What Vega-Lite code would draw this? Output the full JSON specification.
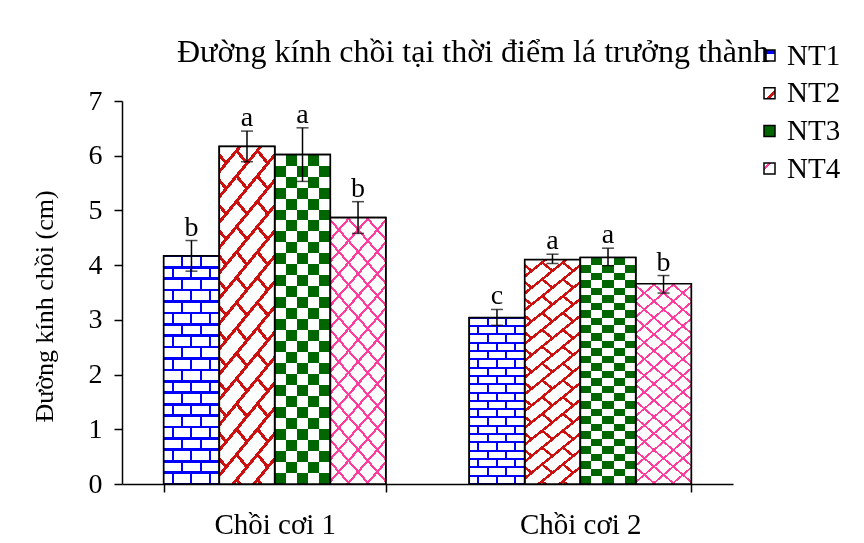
{
  "$schema": "https://vega.github.io/schema/vega-lite/v6.json",
  "width": 611,
  "height": 383,
  "autosize": {"type": "none"},
  "padding": {"left": 122, "top": 101, "right": 131, "bottom": 59},
  "background": "white",
  "config": {
    "view": {"stroke": null},
    "font": "Liberation Serif"
  },
  "title": {
    "text": "Đường kính chồi tại thời điểm lá trưởng thành",
    "anchor": "start",
    "frame": "group",
    "font": "Liberation Serif",
    "fontSize": 32,
    "fontWeight": "normal",
    "color": "black",
    "dx": 55,
    "dy": 48,
    "offset": 20
  },
  "data": {
    "values": [
      {"giai_doan": "Chồi cơi 1", "nt": "NT1", "tb": 4.17, "duoi": 3.89, "tren": 4.45, "chu": "b"},
      {"giai_doan": "Chồi cơi 1", "nt": "NT2", "tb": 6.17, "duoi": 5.89, "tren": 6.45, "chu": "a"},
      {"giai_doan": "Chồi cơi 1", "nt": "NT3", "tb": 6.02, "duoi": 5.53, "tren": 6.51, "chu": "a"},
      {"giai_doan": "Chồi cơi 1", "nt": "NT4", "tb": 4.87, "duoi": 4.58, "tren": 5.16, "chu": "b"},
      {"giai_doan": "Chồi cơi 2", "nt": "NT1", "tb": 3.04, "duoi": 2.9, "tren": 3.19, "chu": "c"},
      {"giai_doan": "Chồi cơi 2", "nt": "NT2", "tb": 4.1, "duoi": 4.03, "tren": 4.2, "chu": "a"},
      {"giai_doan": "Chồi cơi 2", "nt": "NT3", "tb": 4.14, "duoi": 3.99, "tren": 4.31, "chu": "a"},
      {"giai_doan": "Chồi cơi 2", "nt": "NT4", "tb": 3.66, "duoi": 3.49, "tren": 3.81, "chu": "b"}
    ]
  },
  "encoding": {
    "x": {
      "field": "giai_doan",
      "type": "nominal",
      "sort": ["Chồi cơi 1", "Chồi cơi 2"],
      "scale": {"paddingInner": 0.273, "paddingOuter": 0.1365},
      "axis": {
        "title": null,
        "labelAngle": 0,
        "domainColor": "black",
        "domainWidth": 1.5,
        "tickColor": "black",
        "tickWidth": 1.5,
        "tickSize": 8,
        "tickBand": "extent",
        "labelFont": "Liberation Serif",
        "labelFontSize": 29,
        "labelColor": "black",
        "labelPadding": 18
      }
    },
    "xOffset": {
      "field": "nt",
      "type": "nominal",
      "scale": {"domain": ["NT1", "NT2", "NT3", "NT4"], "paddingInner": 0, "paddingOuter": 0}
    },
    "y": {
      "field": "tb",
      "type": "quantitative",
      "scale": {"domain": [0, 7], "nice": false},
      "axis": {
        "title": "Đường kính chồi (cm)",
        "values": [0, 1, 2, 3, 4, 5, 6, 7],
        "grid": false,
        "domainColor": "black",
        "domainWidth": 1.5,
        "tickColor": "black",
        "tickWidth": 1.5,
        "tickSize": 8,
        "labelFont": "Liberation Serif",
        "labelFontSize": 28,
        "labelColor": "black",
        "labelPadding": 12,
        "titleFont": "Liberation Serif",
        "titleFontSize": 26,
        "titleFontWeight": "normal",
        "titleColor": "black",
        "titlePadding": 31,
        "titleY": 205
      }
    }
  },
  "layer": [
    {
      "mark": {"type": "bar", "stroke": "black", "strokeWidth": 1.5},
      "encoding": {
        "color": {
          "field": "nt",
          "type": "nominal",
          "scale": {
            "domain": ["NT1", "NT2", "NT3", "NT4"],
            "range": [
              {"expr": "{gradient:'linear',x1:0,y1:0,x2:0.000001,y2:1,stops:[{offset:0,color:'#0000ff'},{offset:0.4,color:'#0000ff'},{offset:0.4,color:'#ffffff'},{offset:1,color:'#ffffff'}]}"},
              {"expr": "{gradient:'linear',x1:0,y1:0,x2:1,y2:1,stops:[{offset:0,color:'#ffffff'},{offset:0.6,color:'#ffffff'},{offset:0.6,color:'#cc1111'},{offset:0.78,color:'#cc1111'},{offset:0.78,color:'#ffffff'},{offset:1,color:'#ffffff'}]}"},
              "#006600",
              {"expr": "{gradient:'linear',x1:0,y1:0,x2:1,y2:1,stops:[{offset:0,color:'#ffffff'},{offset:0.2,color:'#ffffff'},{offset:0.2,color:'#ff3d9e'},{offset:0.35,color:'#ff3d9e'},{offset:0.35,color:'#ffffff'},{offset:1,color:'#ffffff'}]}"}
            ]
          },
          "legend": {
            "title": null,
            "orient": "none",
            "legendX": 633,
            "legendY": -60,
            "padding": 0,
            "symbolType": "square",
            "symbolSize": 121,
            "symbolStrokeColor": "black",
            "symbolStrokeWidth": 1.5,
            "labelFont": "Liberation Serif",
            "labelFontSize": 29,
            "labelColor": "black",
            "labelOffset": 3,
            "rowPadding": 7.7
          }
        }
      }
    },
    {
      "transform": [{"filter": "datum.nt === 'NT1'"}],
      "mark": {"type": "bar", "fill": {"gradient": "linear", "x1": 0, "y1": 0, "x2": 1, "y2": 0, "stops": [{"offset":0,"color":"#000"},{"offset":0.149,"color":"#000"},{"offset":0.149,"color":"#fff"},{"offset":0.185,"color":"#fff"},{"offset":0.185,"color":"#000"},{"offset":0.315,"color":"#000"},{"offset":0.315,"color":"#fff"},{"offset":0.351,"color":"#fff"},{"offset":0.351,"color":"#000"},{"offset":0.482,"color":"#000"},{"offset":0.482,"color":"#fff"},{"offset":0.518,"color":"#fff"},{"offset":0.518,"color":"#000"},{"offset":0.649,"color":"#000"},{"offset":0.649,"color":"#fff"},{"offset":0.685,"color":"#fff"},{"offset":0.685,"color":"#000"},{"offset":0.815,"color":"#000"},{"offset":0.815,"color":"#fff"},{"offset":0.851,"color":"#fff"},{"offset":0.851,"color":"#000"},{"offset":1,"color":"#000"}]}}
    },
    {
      "transform": [{"filter": "datum.nt === 'NT1'"}],
      "mark": {"type": "bar", "blend": "multiply", "fill": {"gradient": "linear", "x1": 0, "y1": 0, "x2": 0.000001, "y2": 1, "stops": [{"offset":0,"color":"#000"},{"offset":0.05,"color":"#000"},{"offset":0.05,"color":"#fff"},{"offset":0.1,"color":"#fff"},{"offset":0.1,"color":"#000"},{"offset":0.15,"color":"#000"},{"offset":0.15,"color":"#fff"},{"offset":0.2,"color":"#fff"},{"offset":0.2,"color":"#000"},{"offset":0.25,"color":"#000"},{"offset":0.25,"color":"#fff"},{"offset":0.3,"color":"#fff"},{"offset":0.3,"color":"#000"},{"offset":0.35,"color":"#000"},{"offset":0.35,"color":"#fff"},{"offset":0.4,"color":"#fff"},{"offset":0.4,"color":"#000"},{"offset":0.45,"color":"#000"},{"offset":0.45,"color":"#fff"},{"offset":0.5,"color":"#fff"},{"offset":0.5,"color":"#000"},{"offset":0.55,"color":"#000"},{"offset":0.55,"color":"#fff"},{"offset":0.6,"color":"#fff"},{"offset":0.6,"color":"#000"},{"offset":0.65,"color":"#000"},{"offset":0.65,"color":"#fff"},{"offset":0.7,"color":"#fff"},{"offset":0.7,"color":"#000"},{"offset":0.75,"color":"#000"},{"offset":0.75,"color":"#fff"},{"offset":0.8,"color":"#fff"},{"offset":0.8,"color":"#000"},{"offset":0.85,"color":"#000"},{"offset":0.85,"color":"#fff"},{"offset":0.9,"color":"#fff"},{"offset":0.9,"color":"#000"},{"offset":0.95,"color":"#000"},{"offset":0.95,"color":"#fff"},{"offset":1,"color":"#fff"}]}}
    },
    {
      "transform": [{"filter": "datum.nt === 'NT1'"}],
      "mark": {"type": "bar", "blend": "difference", "fill": {"gradient": "linear", "x1": 0, "y1": 0, "x2": 1, "y2": 0, "stops": [{"offset":0,"color":"#000"},{"offset":0.315,"color":"#000"},{"offset":0.315,"color":"#fff"},{"offset":0.351,"color":"#fff"},{"offset":0.351,"color":"#000"},{"offset":0.649,"color":"#000"},{"offset":0.649,"color":"#fff"},{"offset":0.685,"color":"#fff"},{"offset":0.685,"color":"#000"},{"offset":1,"color":"#000"}]}}
    },
    {
      "transform": [{"filter": "datum.nt === 'NT1'"}],
      "mark": {"type": "bar", "blend": "screen", "fill": {"gradient": "linear", "x1": 0, "y1": 0, "x2": 0.000001, "y2": 1, "stops": [{"offset":0,"color":"#fff"},{"offset":0.006,"color":"#fff"},{"offset":0.006,"color":"#000"},{"offset":0.044,"color":"#000"},{"offset":0.044,"color":"#fff"},{"offset":0.056,"color":"#fff"},{"offset":0.056,"color":"#000"},{"offset":0.094,"color":"#000"},{"offset":0.094,"color":"#fff"},{"offset":0.106,"color":"#fff"},{"offset":0.106,"color":"#000"},{"offset":0.144,"color":"#000"},{"offset":0.144,"color":"#fff"},{"offset":0.156,"color":"#fff"},{"offset":0.156,"color":"#000"},{"offset":0.194,"color":"#000"},{"offset":0.194,"color":"#fff"},{"offset":0.206,"color":"#fff"},{"offset":0.206,"color":"#000"},{"offset":0.244,"color":"#000"},{"offset":0.244,"color":"#fff"},{"offset":0.256,"color":"#fff"},{"offset":0.256,"color":"#000"},{"offset":0.294,"color":"#000"},{"offset":0.294,"color":"#fff"},{"offset":0.306,"color":"#fff"},{"offset":0.306,"color":"#000"},{"offset":0.344,"color":"#000"},{"offset":0.344,"color":"#fff"},{"offset":0.356,"color":"#fff"},{"offset":0.356,"color":"#000"},{"offset":0.394,"color":"#000"},{"offset":0.394,"color":"#fff"},{"offset":0.406,"color":"#fff"},{"offset":0.406,"color":"#000"},{"offset":0.444,"color":"#000"},{"offset":0.444,"color":"#fff"},{"offset":0.456,"color":"#fff"},{"offset":0.456,"color":"#000"},{"offset":0.494,"color":"#000"},{"offset":0.494,"color":"#fff"},{"offset":0.506,"color":"#fff"},{"offset":0.506,"color":"#000"},{"offset":0.544,"color":"#000"},{"offset":0.544,"color":"#fff"},{"offset":0.556,"color":"#fff"},{"offset":0.556,"color":"#000"},{"offset":0.594,"color":"#000"},{"offset":0.594,"color":"#fff"},{"offset":0.606,"color":"#fff"},{"offset":0.606,"color":"#000"},{"offset":0.644,"color":"#000"},{"offset":0.644,"color":"#fff"},{"offset":0.656,"color":"#fff"},{"offset":0.656,"color":"#000"},{"offset":0.694,"color":"#000"},{"offset":0.694,"color":"#fff"},{"offset":0.706,"color":"#fff"},{"offset":0.706,"color":"#000"},{"offset":0.744,"color":"#000"},{"offset":0.744,"color":"#fff"},{"offset":0.756,"color":"#fff"},{"offset":0.756,"color":"#000"},{"offset":0.794,"color":"#000"},{"offset":0.794,"color":"#fff"},{"offset":0.806,"color":"#fff"},{"offset":0.806,"color":"#000"},{"offset":0.844,"color":"#000"},{"offset":0.844,"color":"#fff"},{"offset":0.856,"color":"#fff"},{"offset":0.856,"color":"#000"},{"offset":0.894,"color":"#000"},{"offset":0.894,"color":"#fff"},{"offset":0.906,"color":"#fff"},{"offset":0.906,"color":"#000"},{"offset":0.944,"color":"#000"},{"offset":0.944,"color":"#fff"},{"offset":0.956,"color":"#fff"},{"offset":0.956,"color":"#000"},{"offset":0.994,"color":"#000"},{"offset":0.994,"color":"#fff"},{"offset":1,"color":"#fff"}]}}
    },
    {
      "transform": [{"filter": "datum.nt === 'NT1'"}],
      "mark": {"type": "bar", "blend": "difference", "fill": "#ffffff"}
    },
    {
      "transform": [{"filter": "datum.nt === 'NT1'"}],
      "mark": {"type": "bar", "blend": "screen", "fill": "#0000ff"}
    },
    {
      "transform": [{"filter": "datum.nt === 'NT2'"}],
      "mark": {"type": "bar", "fill": {"gradient": "linear", "x1": 0, "y1": 1, "x2": 0.2308, "y2": -0.1538, "stops": [{"offset":0,"color":"#000"},{"offset":0.0565,"color":"#000"},{"offset":0.0565,"color":"#fff"},{"offset":0.0685,"color":"#fff"},{"offset":0.0685,"color":"#000"},{"offset":0.119,"color":"#000"},{"offset":0.119,"color":"#fff"},{"offset":0.131,"color":"#fff"},{"offset":0.131,"color":"#000"},{"offset":0.1815,"color":"#000"},{"offset":0.1815,"color":"#fff"},{"offset":0.1935,"color":"#fff"},{"offset":0.1935,"color":"#000"},{"offset":0.244,"color":"#000"},{"offset":0.244,"color":"#fff"},{"offset":0.256,"color":"#fff"},{"offset":0.256,"color":"#000"},{"offset":0.3065,"color":"#000"},{"offset":0.3065,"color":"#fff"},{"offset":0.3185,"color":"#fff"},{"offset":0.3185,"color":"#000"},{"offset":0.369,"color":"#000"},{"offset":0.369,"color":"#fff"},{"offset":0.381,"color":"#fff"},{"offset":0.381,"color":"#000"},{"offset":0.4315,"color":"#000"},{"offset":0.4315,"color":"#fff"},{"offset":0.4435,"color":"#fff"},{"offset":0.4435,"color":"#000"},{"offset":0.494,"color":"#000"},{"offset":0.494,"color":"#fff"},{"offset":0.506,"color":"#fff"},{"offset":0.506,"color":"#000"},{"offset":0.5565,"color":"#000"},{"offset":0.5565,"color":"#fff"},{"offset":0.5685,"color":"#fff"},{"offset":0.5685,"color":"#000"},{"offset":0.619,"color":"#000"},{"offset":0.619,"color":"#fff"},{"offset":0.631,"color":"#fff"},{"offset":0.631,"color":"#000"},{"offset":0.6815,"color":"#000"},{"offset":0.6815,"color":"#fff"},{"offset":0.6935,"color":"#fff"},{"offset":0.6935,"color":"#000"},{"offset":0.744,"color":"#000"},{"offset":0.744,"color":"#fff"},{"offset":0.756,"color":"#fff"},{"offset":0.756,"color":"#000"},{"offset":0.8065,"color":"#000"},{"offset":0.8065,"color":"#fff"},{"offset":0.8185,"color":"#fff"},{"offset":0.8185,"color":"#000"},{"offset":0.869,"color":"#000"},{"offset":0.869,"color":"#fff"},{"offset":0.881,"color":"#fff"},{"offset":0.881,"color":"#000"},{"offset":0.9315,"color":"#000"},{"offset":0.9315,"color":"#fff"},{"offset":0.9435,"color":"#fff"},{"offset":0.9435,"color":"#000"},{"offset":1,"color":"#000"}]}}
    },
    {
      "transform": [{"filter": "datum.nt === 'NT2'"}],
      "mark": {"type": "bar", "blend": "multiply", "fill": {"gradient": "linear", "x1": 0, "y1": 0, "x2": 0.2308, "y2": 1.1538, "stops": [{"offset":0,"color":"#000"},{"offset":0.0625,"color":"#000"},{"offset":0.0625,"color":"#fff"},{"offset":0.125,"color":"#fff"},{"offset":0.125,"color":"#000"},{"offset":0.1875,"color":"#000"},{"offset":0.1875,"color":"#fff"},{"offset":0.25,"color":"#fff"},{"offset":0.25,"color":"#000"},{"offset":0.3125,"color":"#000"},{"offset":0.3125,"color":"#fff"},{"offset":0.375,"color":"#fff"},{"offset":0.375,"color":"#000"},{"offset":0.4375,"color":"#000"},{"offset":0.4375,"color":"#fff"},{"offset":0.5,"color":"#fff"},{"offset":0.5,"color":"#000"},{"offset":0.5625,"color":"#000"},{"offset":0.5625,"color":"#fff"},{"offset":0.625,"color":"#fff"},{"offset":0.625,"color":"#000"},{"offset":0.6875,"color":"#000"},{"offset":0.6875,"color":"#fff"},{"offset":0.75,"color":"#fff"},{"offset":0.75,"color":"#000"},{"offset":0.8125,"color":"#000"},{"offset":0.8125,"color":"#fff"},{"offset":0.875,"color":"#fff"},{"offset":0.875,"color":"#000"},{"offset":0.9375,"color":"#000"},{"offset":0.9375,"color":"#fff"},{"offset":1,"color":"#fff"}]}}
    },
    {
      "transform": [{"filter": "datum.nt === 'NT2'"}],
      "mark": {"type": "bar", "blend": "difference", "fill": {"gradient": "linear", "x1": 0, "y1": 1, "x2": 0.2308, "y2": -0.1538, "stops": [{"offset":0,"color":"#000"},{"offset":0.0565,"color":"#000"},{"offset":0.0565,"color":"#fff"},{"offset":0.0685,"color":"#fff"},{"offset":0.0685,"color":"#000"},{"offset":0.1815,"color":"#000"},{"offset":0.1815,"color":"#fff"},{"offset":0.1935,"color":"#fff"},{"offset":0.1935,"color":"#000"},{"offset":0.3065,"color":"#000"},{"offset":0.3065,"color":"#fff"},{"offset":0.3185,"color":"#fff"},{"offset":0.3185,"color":"#000"},{"offset":0.4315,"color":"#000"},{"offset":0.4315,"color":"#fff"},{"offset":0.4435,"color":"#fff"},{"offset":0.4435,"color":"#000"},{"offset":0.5565,"color":"#000"},{"offset":0.5565,"color":"#fff"},{"offset":0.5685,"color":"#fff"},{"offset":0.5685,"color":"#000"},{"offset":0.6815,"color":"#000"},{"offset":0.6815,"color":"#fff"},{"offset":0.6935,"color":"#fff"},{"offset":0.6935,"color":"#000"},{"offset":0.8065,"color":"#000"},{"offset":0.8065,"color":"#fff"},{"offset":0.8185,"color":"#fff"},{"offset":0.8185,"color":"#000"},{"offset":0.9315,"color":"#000"},{"offset":0.9315,"color":"#fff"},{"offset":0.9435,"color":"#fff"},{"offset":0.9435,"color":"#000"},{"offset":1,"color":"#000"}]}}
    },
    {
      "transform": [{"filter": "datum.nt === 'NT2'"}],
      "mark": {"type": "bar", "blend": "screen", "fill": {"gradient": "linear", "x1": 0, "y1": 0, "x2": 0.2308, "y2": 1.1538, "stops": [{"offset":0,"color":"#000"},{"offset":0.0565,"color":"#000"},{"offset":0.0565,"color":"#fff"},{"offset":0.0685,"color":"#fff"},{"offset":0.0685,"color":"#000"},{"offset":0.119,"color":"#000"},{"offset":0.119,"color":"#fff"},{"offset":0.131,"color":"#fff"},{"offset":0.131,"color":"#000"},{"offset":0.1815,"color":"#000"},{"offset":0.1815,"color":"#fff"},{"offset":0.1935,"color":"#fff"},{"offset":0.1935,"color":"#000"},{"offset":0.244,"color":"#000"},{"offset":0.244,"color":"#fff"},{"offset":0.256,"color":"#fff"},{"offset":0.256,"color":"#000"},{"offset":0.3065,"color":"#000"},{"offset":0.3065,"color":"#fff"},{"offset":0.3185,"color":"#fff"},{"offset":0.3185,"color":"#000"},{"offset":0.369,"color":"#000"},{"offset":0.369,"color":"#fff"},{"offset":0.381,"color":"#fff"},{"offset":0.381,"color":"#000"},{"offset":0.4315,"color":"#000"},{"offset":0.4315,"color":"#fff"},{"offset":0.4435,"color":"#fff"},{"offset":0.4435,"color":"#000"},{"offset":0.494,"color":"#000"},{"offset":0.494,"color":"#fff"},{"offset":0.506,"color":"#fff"},{"offset":0.506,"color":"#000"},{"offset":0.5565,"color":"#000"},{"offset":0.5565,"color":"#fff"},{"offset":0.5685,"color":"#fff"},{"offset":0.5685,"color":"#000"},{"offset":0.619,"color":"#000"},{"offset":0.619,"color":"#fff"},{"offset":0.631,"color":"#fff"},{"offset":0.631,"color":"#000"},{"offset":0.6815,"color":"#000"},{"offset":0.6815,"color":"#fff"},{"offset":0.6935,"color":"#fff"},{"offset":0.6935,"color":"#000"},{"offset":0.744,"color":"#000"},{"offset":0.744,"color":"#fff"},{"offset":0.756,"color":"#fff"},{"offset":0.756,"color":"#000"},{"offset":0.8065,"color":"#000"},{"offset":0.8065,"color":"#fff"},{"offset":0.8185,"color":"#fff"},{"offset":0.8185,"color":"#000"},{"offset":0.869,"color":"#000"},{"offset":0.869,"color":"#fff"},{"offset":0.881,"color":"#fff"},{"offset":0.881,"color":"#000"},{"offset":0.9315,"color":"#000"},{"offset":0.9315,"color":"#fff"},{"offset":0.9435,"color":"#fff"},{"offset":0.9435,"color":"#000"},{"offset":1,"color":"#000"}]}}
    },
    {
      "transform": [{"filter": "datum.nt === 'NT2'"}],
      "mark": {"type": "bar", "blend": "difference", "fill": "#ffffff"}
    },
    {
      "transform": [{"filter": "datum.nt === 'NT2'"}],
      "mark": {"type": "bar", "blend": "screen", "fill": "#cc1111"}
    },
    {
      "transform": [{"filter": "datum.nt === 'NT3'"}],
      "mark": {"type": "bar", "fill": {"gradient": "linear", "x1": 0, "y1": 0, "x2": 1, "y2": 0, "stops": [{"offset":0,"color":"#000"},{"offset":0.2,"color":"#000"},{"offset":0.2,"color":"#fff"},{"offset":0.4,"color":"#fff"},{"offset":0.4,"color":"#000"},{"offset":0.6,"color":"#000"},{"offset":0.6,"color":"#fff"},{"offset":0.8,"color":"#fff"},{"offset":0.8,"color":"#000"},{"offset":1,"color":"#000"}]}}
    },
    {
      "transform": [{"filter": "datum.nt === 'NT3'"}],
      "mark": {"type": "bar", "blend": "difference", "fill": {"gradient": "linear", "x1": 0, "y1": 0, "x2": 0.000001, "y2": 1, "stops": [{"offset":0,"color":"#fff"},{"offset":0.0333,"color":"#fff"},{"offset":0.0333,"color":"#000"},{"offset":0.0667,"color":"#000"},{"offset":0.0667,"color":"#fff"},{"offset":0.1,"color":"#fff"},{"offset":0.1,"color":"#000"},{"offset":0.1333,"color":"#000"},{"offset":0.1333,"color":"#fff"},{"offset":0.1667,"color":"#fff"},{"offset":0.1667,"color":"#000"},{"offset":0.2,"color":"#000"},{"offset":0.2,"color":"#fff"},{"offset":0.2333,"color":"#fff"},{"offset":0.2333,"color":"#000"},{"offset":0.2667,"color":"#000"},{"offset":0.2667,"color":"#fff"},{"offset":0.3,"color":"#fff"},{"offset":0.3,"color":"#000"},{"offset":0.3333,"color":"#000"},{"offset":0.3333,"color":"#fff"},{"offset":0.3667,"color":"#fff"},{"offset":0.3667,"color":"#000"},{"offset":0.4,"color":"#000"},{"offset":0.4,"color":"#fff"},{"offset":0.4333,"color":"#fff"},{"offset":0.4333,"color":"#000"},{"offset":0.4667,"color":"#000"},{"offset":0.4667,"color":"#fff"},{"offset":0.5,"color":"#fff"},{"offset":0.5,"color":"#000"},{"offset":0.5333,"color":"#000"},{"offset":0.5333,"color":"#fff"},{"offset":0.5667,"color":"#fff"},{"offset":0.5667,"color":"#000"},{"offset":0.6,"color":"#000"},{"offset":0.6,"color":"#fff"},{"offset":0.6333,"color":"#fff"},{"offset":0.6333,"color":"#000"},{"offset":0.6667,"color":"#000"},{"offset":0.6667,"color":"#fff"},{"offset":0.7,"color":"#fff"},{"offset":0.7,"color":"#000"},{"offset":0.7333,"color":"#000"},{"offset":0.7333,"color":"#fff"},{"offset":0.7667,"color":"#fff"},{"offset":0.7667,"color":"#000"},{"offset":0.8,"color":"#000"},{"offset":0.8,"color":"#fff"},{"offset":0.8333,"color":"#fff"},{"offset":0.8333,"color":"#000"},{"offset":0.8667,"color":"#000"},{"offset":0.8667,"color":"#fff"},{"offset":0.9,"color":"#fff"},{"offset":0.9,"color":"#000"},{"offset":0.9333,"color":"#000"},{"offset":0.9333,"color":"#fff"},{"offset":0.9667,"color":"#fff"},{"offset":0.9667,"color":"#000"},{"offset":1,"color":"#000"}]}}
    },
    {
      "transform": [{"filter": "datum.nt === 'NT3'"}],
      "mark": {"type": "bar", "blend": "screen", "fill": "#006600"}
    },
    {
      "transform": [{"filter": "datum.nt === 'NT4'"}],
      "mark": {"type": "bar", "fill": {"gradient": "linear", "x1": 0, "y1": 0, "x2": 0.279, "y2": 1.172, "stops": [{"offset":0,"color":"#fff"},{"offset":0.0617,"color":"#fff"},{"offset":0.0617,"color":"#ff3d9e"},{"offset":0.0717,"color":"#ff3d9e"},{"offset":0.0717,"color":"#fff"},{"offset":0.1283,"color":"#fff"},{"offset":0.1283,"color":"#ff3d9e"},{"offset":0.1383,"color":"#ff3d9e"},{"offset":0.1383,"color":"#fff"},{"offset":0.195,"color":"#fff"},{"offset":0.195,"color":"#ff3d9e"},{"offset":0.205,"color":"#ff3d9e"},{"offset":0.205,"color":"#fff"},{"offset":0.2617,"color":"#fff"},{"offset":0.2617,"color":"#ff3d9e"},{"offset":0.2717,"color":"#ff3d9e"},{"offset":0.2717,"color":"#fff"},{"offset":0.3283,"color":"#fff"},{"offset":0.3283,"color":"#ff3d9e"},{"offset":0.3383,"color":"#ff3d9e"},{"offset":0.3383,"color":"#fff"},{"offset":0.395,"color":"#fff"},{"offset":0.395,"color":"#ff3d9e"},{"offset":0.405,"color":"#ff3d9e"},{"offset":0.405,"color":"#fff"},{"offset":0.4617,"color":"#fff"},{"offset":0.4617,"color":"#ff3d9e"},{"offset":0.4717,"color":"#ff3d9e"},{"offset":0.4717,"color":"#fff"},{"offset":0.5283,"color":"#fff"},{"offset":0.5283,"color":"#ff3d9e"},{"offset":0.5383,"color":"#ff3d9e"},{"offset":0.5383,"color":"#fff"},{"offset":0.595,"color":"#fff"},{"offset":0.595,"color":"#ff3d9e"},{"offset":0.605,"color":"#ff3d9e"},{"offset":0.605,"color":"#fff"},{"offset":0.6617,"color":"#fff"},{"offset":0.6617,"color":"#ff3d9e"},{"offset":0.6717,"color":"#ff3d9e"},{"offset":0.6717,"color":"#fff"},{"offset":0.7283,"color":"#fff"},{"offset":0.7283,"color":"#ff3d9e"},{"offset":0.7383,"color":"#ff3d9e"},{"offset":0.7383,"color":"#fff"},{"offset":0.795,"color":"#fff"},{"offset":0.795,"color":"#ff3d9e"},{"offset":0.805,"color":"#ff3d9e"},{"offset":0.805,"color":"#fff"},{"offset":0.8617,"color":"#fff"},{"offset":0.8617,"color":"#ff3d9e"},{"offset":0.8717,"color":"#ff3d9e"},{"offset":0.8717,"color":"#fff"},{"offset":0.9283,"color":"#fff"},{"offset":0.9283,"color":"#ff3d9e"},{"offset":0.9383,"color":"#ff3d9e"},{"offset":0.9383,"color":"#fff"},{"offset":1,"color":"#fff"}]}}
    },
    {
      "transform": [{"filter": "datum.nt === 'NT4'"}],
      "mark": {"type": "bar", "fill": {"gradient": "linear", "x1": 0, "y1": 1, "x2": 0.279, "y2": -0.172, "stops": [{"offset":0,"color":"rgba(255,255,255,0)"},{"offset":0.0617,"color":"rgba(255,255,255,0)"},{"offset":0.0617,"color":"#ff3d9e"},{"offset":0.0717,"color":"#ff3d9e"},{"offset":0.0717,"color":"rgba(255,255,255,0)"},{"offset":0.1283,"color":"rgba(255,255,255,0)"},{"offset":0.1283,"color":"#ff3d9e"},{"offset":0.1383,"color":"#ff3d9e"},{"offset":0.1383,"color":"rgba(255,255,255,0)"},{"offset":0.195,"color":"rgba(255,255,255,0)"},{"offset":0.195,"color":"#ff3d9e"},{"offset":0.205,"color":"#ff3d9e"},{"offset":0.205,"color":"rgba(255,255,255,0)"},{"offset":0.2617,"color":"rgba(255,255,255,0)"},{"offset":0.2617,"color":"#ff3d9e"},{"offset":0.2717,"color":"#ff3d9e"},{"offset":0.2717,"color":"rgba(255,255,255,0)"},{"offset":0.3283,"color":"rgba(255,255,255,0)"},{"offset":0.3283,"color":"#ff3d9e"},{"offset":0.3383,"color":"#ff3d9e"},{"offset":0.3383,"color":"rgba(255,255,255,0)"},{"offset":0.395,"color":"rgba(255,255,255,0)"},{"offset":0.395,"color":"#ff3d9e"},{"offset":0.405,"color":"#ff3d9e"},{"offset":0.405,"color":"rgba(255,255,255,0)"},{"offset":0.4617,"color":"rgba(255,255,255,0)"},{"offset":0.4617,"color":"#ff3d9e"},{"offset":0.4717,"color":"#ff3d9e"},{"offset":0.4717,"color":"rgba(255,255,255,0)"},{"offset":0.5283,"color":"rgba(255,255,255,0)"},{"offset":0.5283,"color":"#ff3d9e"},{"offset":0.5383,"color":"#ff3d9e"},{"offset":0.5383,"color":"rgba(255,255,255,0)"},{"offset":0.595,"color":"rgba(255,255,255,0)"},{"offset":0.595,"color":"#ff3d9e"},{"offset":0.605,"color":"#ff3d9e"},{"offset":0.605,"color":"rgba(255,255,255,0)"},{"offset":0.6617,"color":"rgba(255,255,255,0)"},{"offset":0.6617,"color":"#ff3d9e"},{"offset":0.6717,"color":"#ff3d9e"},{"offset":0.6717,"color":"rgba(255,255,255,0)"},{"offset":0.7283,"color":"rgba(255,255,255,0)"},{"offset":0.7283,"color":"#ff3d9e"},{"offset":0.7383,"color":"#ff3d9e"},{"offset":0.7383,"color":"rgba(255,255,255,0)"},{"offset":0.795,"color":"rgba(255,255,255,0)"},{"offset":0.795,"color":"#ff3d9e"},{"offset":0.805,"color":"#ff3d9e"},{"offset":0.805,"color":"rgba(255,255,255,0)"},{"offset":0.8617,"color":"rgba(255,255,255,0)"},{"offset":0.8617,"color":"#ff3d9e"},{"offset":0.8717,"color":"#ff3d9e"},{"offset":0.8717,"color":"rgba(255,255,255,0)"},{"offset":0.9283,"color":"rgba(255,255,255,0)"},{"offset":0.9283,"color":"#ff3d9e"},{"offset":0.9383,"color":"#ff3d9e"},{"offset":0.9383,"color":"rgba(255,255,255,0)"},{"offset":1,"color":"rgba(255,255,255,0)"}]}}
    },
    {
      "mark": {"type": "bar", "fill": "transparent", "stroke": "black", "strokeWidth": 1.7}
    },
    {
      "mark": {"type": "rule", "color": "black", "strokeWidth": 1.5},
      "encoding": {
        "y": {"field": "duoi", "type": "quantitative", "scale": {"domain": [0, 7], "nice": false}, "title": "Đường kính chồi (cm)"},
        "y2": {"field": "tren"}
      }
    },
    {
      "mark": {"type": "tick", "color": "black", "thickness": 1.5, "size": 12, "orient": "horizontal"},
      "encoding": {
        "y": {"field": "duoi", "type": "quantitative", "scale": {"domain": [0, 7], "nice": false}, "title": "Đường kính chồi (cm)"}
      }
    },
    {
      "mark": {"type": "tick", "color": "black", "thickness": 1.5, "size": 12, "orient": "horizontal"},
      "encoding": {
        "y": {"field": "tren", "type": "quantitative", "scale": {"domain": [0, 7], "nice": false}, "title": "Đường kính chồi (cm)"}
      }
    },
    {
      "mark": {"type": "text", "font": "Liberation Serif", "fontSize": 28, "baseline": "alphabetic", "dy": -5, "color": "black"},
      "encoding": {
        "y": {"field": "tren", "type": "quantitative", "scale": {"domain": [0, 7], "nice": false}, "title": "Đường kính chồi (cm)"},
        "text": {"field": "chu"}
      }
    }
  ]
}
